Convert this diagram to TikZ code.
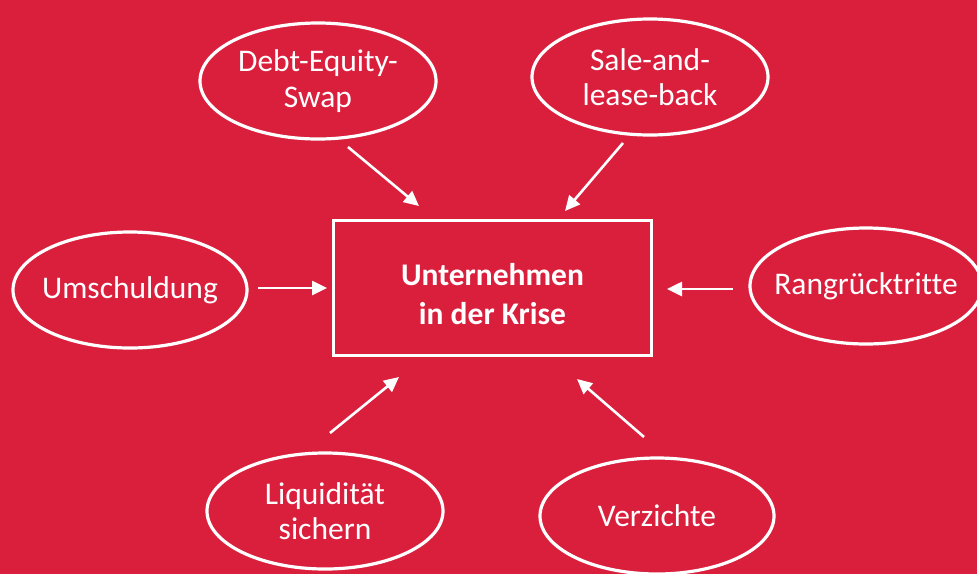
\documentclass[tikz,border=0pt]{standalone}
\usepackage{fontspec}
\setmainfont[Ligatures={NoCommon}]{Carlito}
\usetikzlibrary{shapes.geometric,arrows.meta}
\definecolor{bgred}{HTML}{DA1F3D}
\begin{document}
\begin{tikzpicture}[x=1pt,y=-1pt,
  oval/.style={ellipse,draw=white,line width=3.2pt,minimum width=#1,minimum height=116pt,inner xsep=-40pt,inner ysep=0pt,text=white,align=center,font=\fontsize{31.5}{35.5}\selectfont},
  oval/.default=234pt,
  arr/.style={draw=white,line width=2.6pt,-{Triangle[length=15pt,width=14pt]}},
  centerbox/.style={draw=white,line width=3pt,minimum width=318pt,minimum height=135pt,inner sep=0pt},
  centertext/.style={text=white,align=center,font=\fontsize{31.5}{39}\selectfont\bfseries,yshift=-7pt}]
\fill[bgred] (0,0) rectangle (977,574);
\useasboundingbox (0,0) rectangle (977,574);
\node[centerbox,label={[centertext]center:Unternehmen\\in der Krise}] (box) at (492.5,287.5) {};
\node[oval=236pt] (debt) at (318,81) {Debt-Equity-\\Swap};
\node[oval=236pt] (sale) at (650,77) {Sale-and-\\lease-back};
\node[oval=234pt] (umsch) at (130,290) {Umschuldung};
\node[oval=232pt] (rang) at (866,286) {Rangrücktritte};
\node[oval=236pt] (liq) at (325,511) {Liquidität\\sichern};
\node[oval=234pt] (verz) at (657,516) {Verzichte};
\coordinate (d1) at (348,147); \coordinate (d2) at (419,206);
\coordinate (s1) at (623,143); \coordinate (s2) at (565,211);
\coordinate (u1) at (258,288); \coordinate (u2) at (327,288);
\coordinate (r1) at (733,289); \coordinate (r2) at (667,289);
\coordinate (l1) at (330,433); \coordinate (l2) at (399,377);
\coordinate (v1) at (644,437); \coordinate (v2) at (577,379);
\draw[arr] (d1) -- (d2);
\draw[arr] (s1) -- (s2);
\draw[arr] (u1) -- (u2);
\draw[arr] (r1) -- (r2);
\draw[arr] (l1) -- (l2);
\draw[arr] (v1) -- (v2);
\end{tikzpicture}
\end{document}
